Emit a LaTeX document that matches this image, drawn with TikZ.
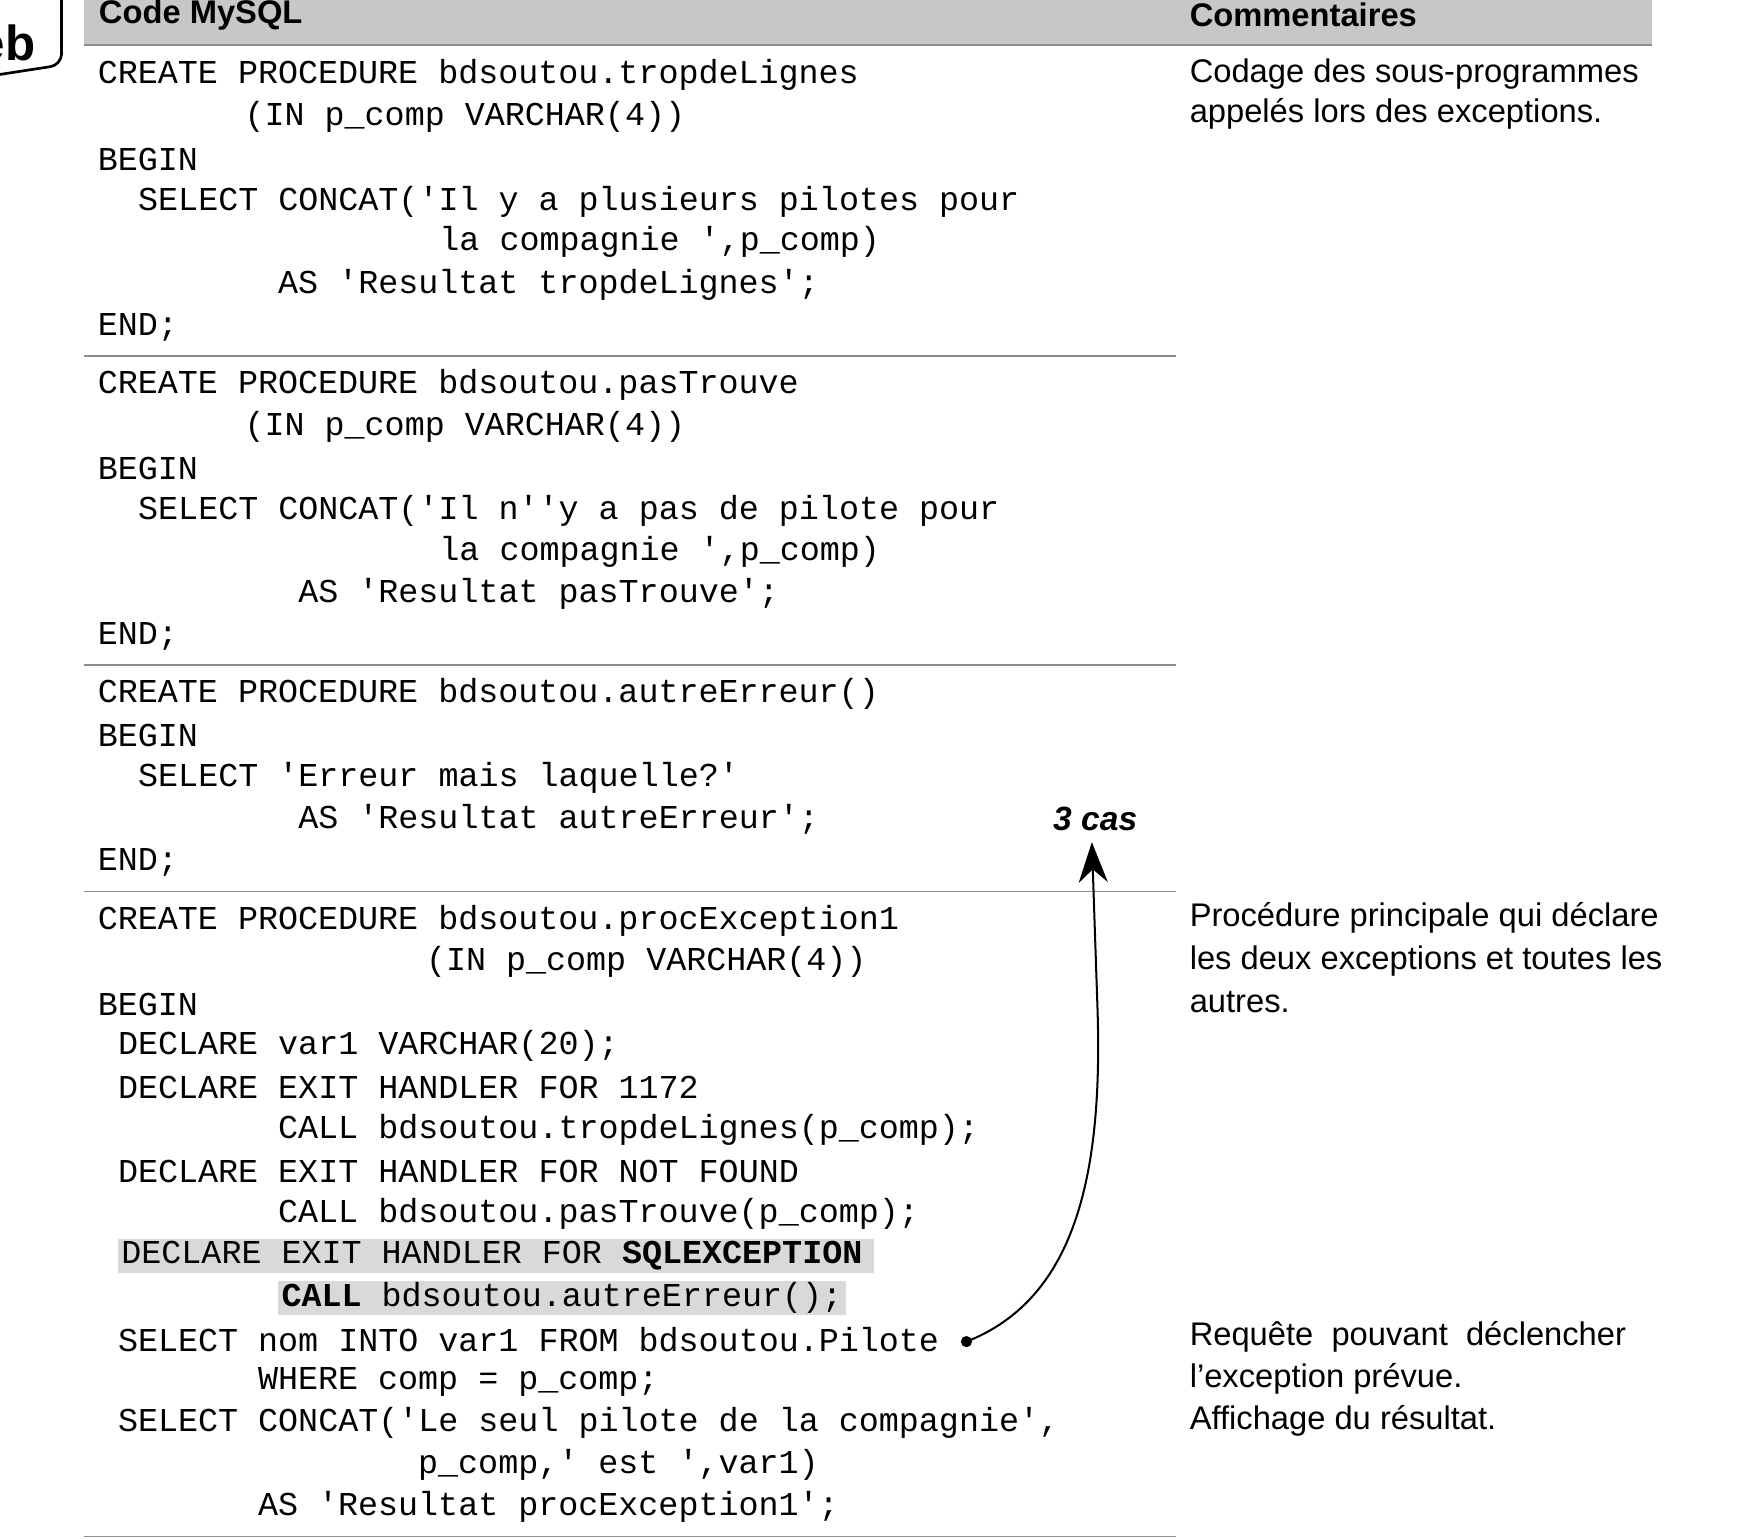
\documentclass[tikz,border=0pt]{standalone}
\usepackage{fontspec}
\setmainfont{Liberation Sans}
\newfontfamily\codefont{Liberation Mono}
\usetikzlibrary{arrows.meta}
\tikzset{
 code/.style={anchor=west,inner sep=0pt,font=\codefont\fontsize{14.9}{16}\selectfont},
 cmt/.style={anchor=west,inner sep=0pt,font=\fontsize{14.6}{17}\selectfont},
 sep/.style={draw=black!45,line width=0.8pt},
 hl/.style={fill=black!15,draw=none}
}
\begin{document}
\begin{tikzpicture}[x=0.5pt,y=-0.5pt]
\useasboundingbox (0,0) rectangle (1560,1375);
% header
\fill[black!22] (75,0) rectangle (1475,40);
\draw[sep] (75,40) -- (1475,40);
\node[anchor=west,inner sep=0pt,font=\bfseries\fontsize{14.6}{17}\selectfont] (h1) at (88,13) {Code MySQL};
\node[anchor=west,inner sep=0pt,font=\bfseries\fontsize{14.6}{17}\selectfont] (h2) at (1062,13) {Commentaires};
% tab
\draw[line width=1.2pt,rounded corners=5pt] (-10,-10) -- (55,-10) -- (55,58) -- (-10,68);
\node[anchor=east,inner sep=0pt,font=\bfseries\fontsize{22}{24}\selectfont] (tab) at (32,38) {eb};
% separators
\foreach \y in {318,594,796,1372} \draw[sep] (75,\y) -- (1050,\y);
% block 1
\node[code] (a1) at (87,67) {CREATE PROCEDURE bdsoutou.tropdeLignes};
\node[code] (a2) at (218,104) {(IN p\_comp VARCHAR(4))};
\node[code] (a3) at (87,142) {BEGIN};
\node[code] (a4) at (123,180) {SELECT CONCAT('Il y a plusieurs pilotes pour};
\node[code] (a5) at (392,216) {la compagnie ',p\_comp)};
\node[code] (a6) at (248,254) {AS 'Resultat tropdeLignes';};
\node[code] (a7) at (87,292) {END;};
% block 2
\node[code] (b1) at (87,344) {CREATE PROCEDURE bdsoutou.pasTrouve};
\node[code] (b2) at (218,381) {(IN p\_comp VARCHAR(4))};
\node[code] (b3) at (87,418) {BEGIN};
\node[code] (b4) at (123,456) {SELECT CONCAT('Il n''y a pas de pilote pour};
\node[code] (b5) at (392,493) {la compagnie ',p\_comp)};
\node[code] (b6) at (266,530) {AS 'Resultat pasTrouve';};
\node[code] (b7) at (87,568) {END;};
% block 3
\node[code] (c1) at (87,620) {CREATE PROCEDURE bdsoutou.autreErreur()};
\node[code] (c2) at (87,657) {BEGIN};
\node[code] (c3) at (123,695) {SELECT 'Erreur mais laquelle?'};
\node[code] (c4) at (266,732) {AS 'Resultat autreErreur';};
\node[code] (c5) at (87,770) {END;};
\node[anchor=center,inner sep=0pt,font=\bfseries\itshape\fontsize{15}{17}\selectfont] (cas) at (978,731) {3 cas};
% block 4
\fill[hl] (105,1106) rectangle (780,1137);
\fill[hl] (248,1144) rectangle (755,1174);
\node[code] (d1) at (87,822) {CREATE PROCEDURE bdsoutou.procException1};
\node[code] (d2) at (380,859) {(IN p\_comp VARCHAR(4))};
\node[code] (d3) at (87,897) {BEGIN};
\node[code] (d4) at (105,934) {DECLARE var1 VARCHAR(20);};
\node[code] (d5) at (105,971) {DECLARE EXIT HANDLER FOR 1172};
\node[code] (d6) at (248,1009) {CALL bdsoutou.tropdeLignes(p\_comp);};
\node[code] (d7) at (105,1046) {DECLARE EXIT HANDLER FOR NOT FOUND};
\node[code] (d8) at (248,1084) {CALL bdsoutou.pasTrouve(p\_comp);};
\node[code] (d9) at (108,1121) {DECLARE EXIT HANDLER FOR \textbf{SQLEXCEPTION}};
\node[code] (d10) at (251,1159) {\textbf{CALL} bdsoutou.autreErreur();};
\node[code] (d11) at (105,1196) {SELECT nom INTO var1 FROM bdsoutou.Pilote};
\node[code] (d12) at (230,1234) {WHERE comp = p\_comp;};
\node[code] (d13) at (105,1271) {SELECT CONCAT('Le seul pilote de la compagnie',};
\node[code] (d14) at (373,1308) {p\_comp,' est ',var1)};
\node[code] (d15) at (230,1346) {AS 'Resultat procException1';};
% arrow
\fill (863,1198) circle (5);
\coordinate (dot) at (863,1198);
\coordinate (tip) at (975,752);
\draw[line width=0.9pt,-{Stealth[length=18pt,width=13pt]}] (dot) .. controls (960,1160) and (985,1050) .. (980,900) -- (tip);
% comments
\node[cmt] (e1) at (1062,66) {Codage des sous-programmes};
\node[cmt] (e2) at (1062,102) {appelés lors des exceptions.};
\node[cmt] (f1) at (1062,820) {Procédure principale qui déclare};
\node[cmt] (f2) at (1062,858) {les deux exceptions et toutes les};
\node[cmt] (f3) at (1062,895) {autres.};
\node[cmt] (g1) at (1062,1194) {Requête\ \ pouvant\ \ déclencher};
\node[cmt] (g2) at (1062,1231) {l’exception prévue.};
\node[cmt] (g3) at (1062,1269) {Affichage du résultat.};
\end{tikzpicture}
\end{document}
